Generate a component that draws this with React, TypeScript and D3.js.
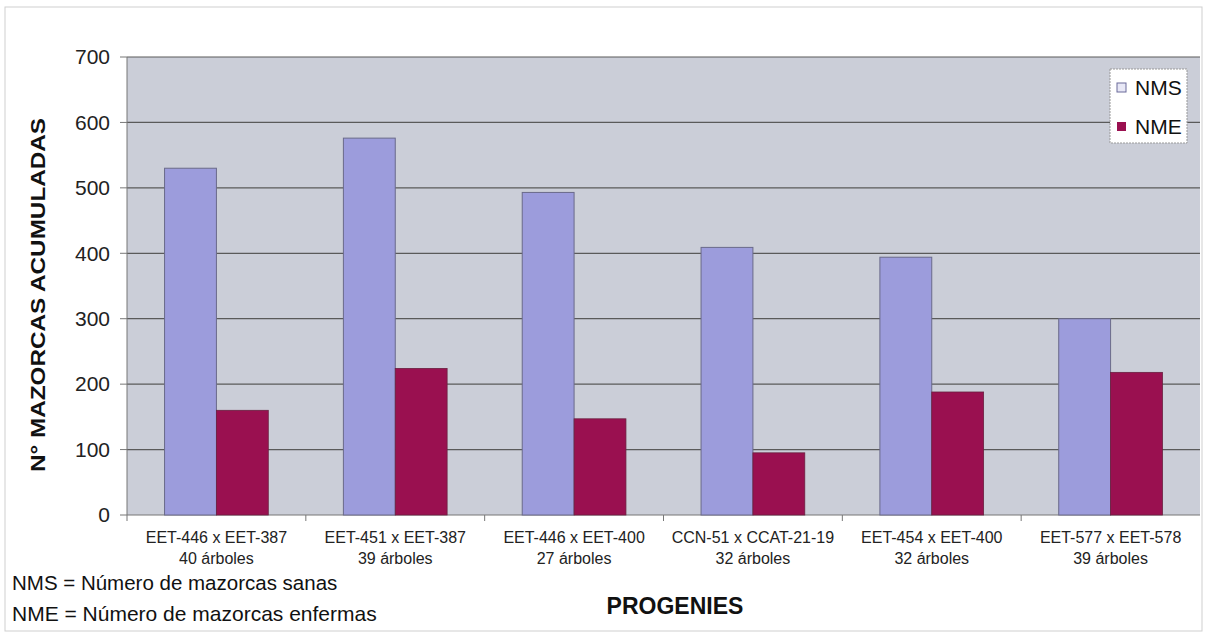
import React from "react";
import * as d3 from "d3";

const categories = [
  ["EET-446 x EET-387", "40 árboles"],
  ["EET-451 x EET-387", "39 árboles"],
  ["EET-446 x EET-400", "27 árboles"],
  ["CCN-51 x CCAT-21-19", "32 árboles"],
  ["EET-454 x EET-400", "32 árboles"],
  ["EET-577 x EET-578", "39 árboles"],
];
const nms = [530, 576, 493, 409, 394, 300];
const nme = [160, 224, 147, 95, 188, 218];
const seriesNames = ["NMS", "NME"];
const yTicks = [0, 100, 200, 300, 400, 500, 600, 700];

const W = 1206;
const H = 634;
const plot = { left: 127, right: 1200, top: 57, bottom: 515 };
const font = "'Liberation Sans', Arial, sans-serif";
const colNMS = "#9c9cdc";
const colNME = "#9a1050";

export default function App() {
  const x = d3
    .scaleBand<number>()
    .domain(d3.range(categories.length))
    .range([plot.left, plot.right])
    .paddingInner(0.42)
    .paddingOuter(0.21);
  const y = d3.scaleLinear().domain([0, 700]).range([plot.bottom, plot.top]);
  const bw = x.bandwidth() / 2;

  return (
    <svg
      width={W}
      height={H}
      style={{ position: "absolute", left: 0, top: 0, background: "#fff" }}
      fontFamily={font}
    >
      <rect x={5} y={7} width={1197} height={624} fill="#fff" stroke="#cfcfcf" strokeWidth={1} />
      <rect
        x={plot.left}
        y={plot.top}
        width={plot.right - plot.left}
        height={plot.bottom - plot.top}
        fill="#cbced8"
      />
      {yTicks.map((t) => (
        <g key={t}>
          {t > 0 && (
            <line x1={plot.left} x2={plot.right} y1={y(t)} y2={y(t)} stroke="#5a5a5a" strokeWidth={1.2} />
          )}
          <line x1={plot.left - 7} x2={plot.left} y1={y(t)} y2={y(t)} stroke="#777" />
          <text x={110} y={y(t)} dy="0.35em" textAnchor="end" fontSize={21} fill="#222">
            {t}
          </text>
        </g>
      ))}
      <line x1={plot.left} x2={plot.left} y1={plot.top} y2={plot.bottom} stroke="#777" />
      <line x1={plot.left} x2={plot.right} y1={plot.bottom} y2={plot.bottom} stroke="#777" />
      {categories.map((c, i) => {
        const x0 = x(i)!;
        const sep = x0 - (x.step() - x.bandwidth()) / 2;
        return (
          <g key={i}>
            <line x1={sep} x2={sep} y1={plot.bottom} y2={plot.bottom + 6} stroke="#777" />
            <rect x={x0} y={y(nms[i])} width={bw} height={plot.bottom - y(nms[i])} fill={colNMS} stroke="#6a6a8a" strokeWidth={1} />
            <rect x={x0 + bw} y={y(nme[i])} width={bw} height={plot.bottom - y(nme[i])} fill={colNME} stroke="#6a2040" strokeWidth={0.8} />
            <text x={x0 + bw} y={543} textAnchor="middle" fontSize={16} fill="#222">
              {c[0]}
            </text>
            <text x={x0 + bw} y={564} textAnchor="middle" fontSize={16} fill="#222">
              {c[1]}
            </text>
          </g>
        );
      })}
      <text
        transform={`translate(45,${(plot.top + plot.bottom) / 2 + 9}) rotate(-90)`}
        textAnchor="middle"
        fontSize={20}
        fontWeight="bold"
        fill="#111"
        textLength={354}
        lengthAdjust="spacingAndGlyphs"
      >
        N° MAZORCAS ACUMULADAS
      </text>
      <text x={675} y={614} textAnchor="middle" fontSize={23} fontWeight="bold" fill="#111">
        PROGENIES
      </text>
      <text x={12} y={590} fontSize={20.5} fill="#111">
        NMS = Número de mazorcas sanas
      </text>
      <text x={12} y={621} fontSize={21} fill="#111">
        NME = Número de mazorcas enfermas
      </text>
      <g>
        <rect x={1110} y={69} width={77} height={74} fill="#fff" stroke="#999" strokeDasharray="2,1" />
        {seriesNames.map((s, i) => (
          <g key={s}>
            <rect
              x={1117}
              y={83 + i * 39}
              width={9}
              height={9}
              fill={i === 0 ? "#e8e8f6" : colNME}
              stroke={i === 0 ? "#6a6a9a" : "none"}
            />
            <text x={1135} y={88 + i * 39} dy="0.35em" fontSize={21} fill="#111">
              {s}
            </text>
          </g>
        ))}
      </g>
    </svg>
  );
}
